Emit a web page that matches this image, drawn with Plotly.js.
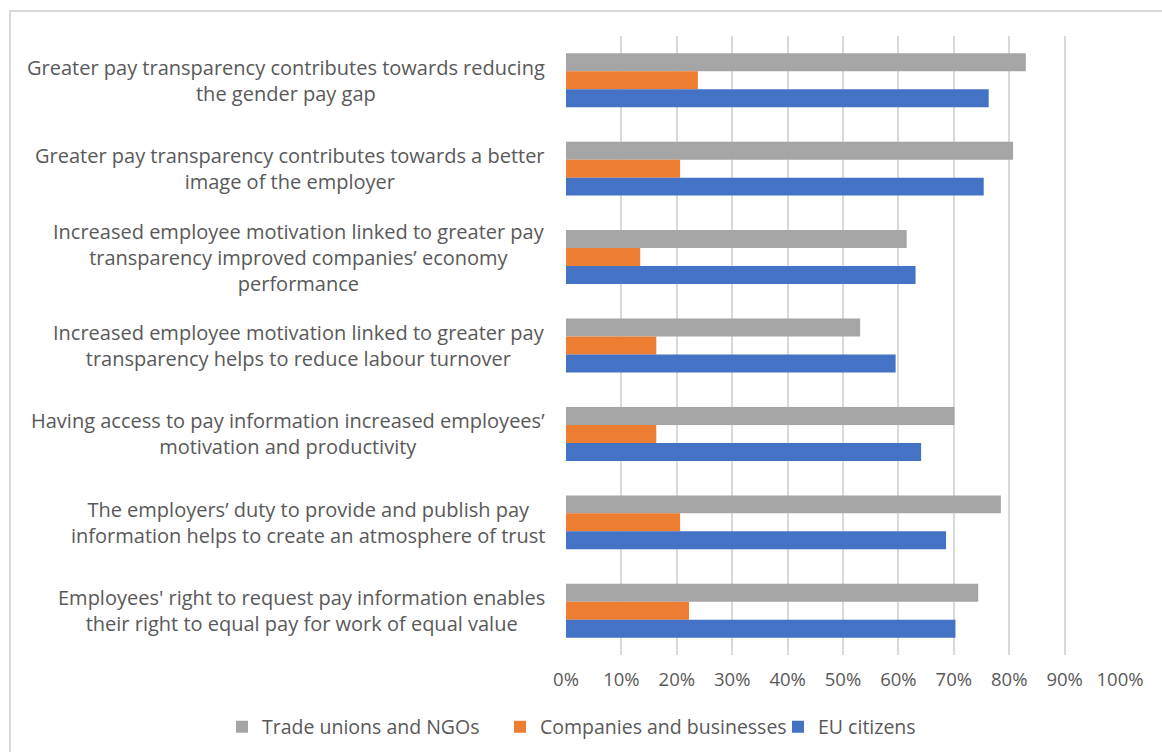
<!DOCTYPE html>
<html>
<head>
<meta charset="utf-8">
<script src="https://cdn.plot.ly/plotly-3.0.1.min.js"></script>
<style>
html,body{margin:0;padding:0;background:#fff;}
#chart{width:1162px;height:752px;}
</style>
</head>
<body>
<div id="chart"></div>
<script>
const categories = [
  "Greater pay transparency contributes towards reducing<br>the gender pay gap",
  "Greater pay transparency contributes towards a better<br>image of the employer",
  "Increased employee motivation linked to greater pay<br>transparency improved companies’ economy<br>performance",
  "Increased employee motivation linked to greater pay<br>transparency helps to reduce labour turnover",
  "Having access to pay information increased employees’<br>motivation and productivity",
  "The employers’ duty to provide and publish pay<br>information helps to create an atmosphere of trust",
  "Employees' right to request pay information enables<br>their right to equal pay for work of equal value"
];
const seriesNames = ["Trade unions and NGOs", "Companies and businesses", "EU citizens"];
const tradeUnions = [83.0, 80.7, 61.5, 53.1, 70.1, 78.5, 74.4];
const companies   = [23.8, 20.6, 13.4, 16.3, 16.3, 20.6, 22.2];
const citizens    = [76.3, 75.4, 63.1, 59.5, 64.1, 68.6, 70.3];
const xTicks = [0,10,20,30,40,50,60,70,80,90,100];

const colors = ["#A5A5A5", "#ED7D31", "#4472C4"];
const font = "'Open Sans', 'Noto Sans', sans-serif";
const textColor = "#595959";

const W = 1162, H = 752;
const L = 566, R = 42, T = 36, B = 97;
const pw = W - L - R, ph = H - T - B;
const px2x = p => (p - L) / pw;
const py2y = p => (H - B - p) / ph;

const values = [tradeUnions, companies, citizens];
const traces = values.map((v, i) => ({
  type: "bar",
  orientation: "h",
  name: seriesNames[i],
  x: v,
  y: categories,
  marker: {color: colors[i]},
  hoverinfo: "x+name"
}));

const annotations = categories.map(c => ({
  xref: "paper", yref: "y",
  x: 0, y: c,
  xanchor: "right", yanchor: "middle",
  xshift: -19,
  text: c,
  align: "center",
  showarrow: false,
  font: {family: font, size: 20, color: textColor}
}));

const layout = {
  width: W, height: H,
  margin: {l: L, r: R, t: T, b: B, pad: 0, autoexpand: false},
  paper_bgcolor: "#fff",
  plot_bgcolor: "#fff",
  barmode: "group",
  bargap: 0.39,
  bargroupgap: 0,
  showlegend: true,
  legend: {
    orientation: "h",
    x: px2x(222), y: py2y(727),
    xanchor: "left", yanchor: "middle",
    entrywidth: 233, entrywidthmode: "pixels",
    font: {family: font, size: 19.5, color: textColor},
    bgcolor: "rgba(0,0,0,0)",
    traceorder: "normal"
  },
  xaxis: {
    range: [0, 100],
    tickvals: xTicks,
    ticktext: xTicks.map(t => t + "%"),
    showgrid: true,
    gridcolor: "#d9d9d9",
    gridwidth: 2,
    zeroline: false,
    showline: false,
    automargin: false,
    ticks: "outside",
    ticklen: 8,
    tickcolor: "rgba(0,0,0,0)",
    tickfont: {family: font, size: 18.5, color: textColor},
    fixedrange: true
  },
  yaxis: {
    type: "category",
    categoryorder: "array",
    categoryarray: categories,
    autorange: "reversed",
    showticklabels: false,
    showgrid: false,
    zeroline: false,
    showline: false,
    automargin: false,
    ticks: "",
    fixedrange: true
  },
  annotations: annotations,
  shapes: [{
    type: "rect", xref: "paper", yref: "paper",
    x0: px2x(10), y0: py2y(800), x1: px2x(1220), y1: py2y(11),
    line: {color: "#d9d9d9", width: 2},
    fillcolor: "rgba(0,0,0,0)",
    layer: "below"
  }]
};

Plotly.newPlot("chart", traces, layout, {displayModeBar: false, staticPlot: true});
</script>
</body>
</html>
